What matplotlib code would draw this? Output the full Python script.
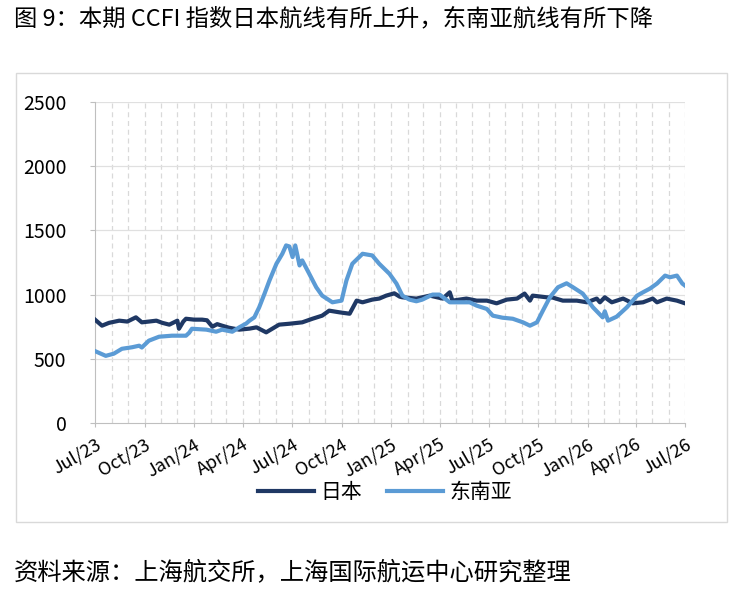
import matplotlib
matplotlib.use('Agg')
import matplotlib.pyplot as plt
import pandas as pd
from matplotlib.patches import Rectangle

plt.rcParams['font.family'] = ['Noto Sans CJK SC', 'DejaVu Sans']

# 日本 series
japan_dates = [
    "2023-07-01", "2023-07-14", "2023-07-27", "2023-08-15", "2023-08-30", "2023-09-15",
    "2023-09-26", "2023-10-09", "2023-10-23", "2023-11-03", "2023-11-16", "2023-12-01",
    "2023-12-04", "2023-12-12", "2023-12-17", "2024-01-01", "2024-01-16", "2024-01-25",
    "2024-02-04", "2024-02-13", "2024-02-22", "2024-03-06", "2024-03-25", "2024-04-13",
    "2024-04-26", "2024-05-14", "2024-06-07", "2024-06-26", "2024-07-20", "2024-08-08",
    "2024-08-26", "2024-09-08", "2024-09-27", "2024-10-16", "2024-10-29", "2024-11-09",
    "2024-11-27", "2024-12-10", "2024-12-23", "2025-01-07", "2025-01-17", "2025-01-22",
    "2025-02-17", "2025-03-14", "2025-04-07", "2025-04-20", "2025-04-25", "2025-05-21",
    "2025-06-09", "2025-06-28", "2025-07-16", "2025-08-04", "2025-08-23", "2025-09-06",
    "2025-09-16", "2025-09-21", "2025-10-17", "2025-10-28", "2025-11-16", "2025-12-12",
    "2025-12-31", "2026-01-18", "2026-01-24", "2026-02-02", "2026-02-15", "2026-03-08",
    "2026-03-26", "2026-04-14", "2026-05-02", "2026-05-10", "2026-05-28", "2026-06-16",
    "2026-07-01",
]
japan_values = [
    805, 758, 780, 797, 790, 823,
    784, 790, 797, 780, 766, 797,
    734, 790, 812, 805, 805, 800,
    750, 770, 758, 742, 727, 735,
    745, 706, 766, 773, 784, 812,
    836, 875, 862, 851, 953, 940,
    961, 969, 992, 1010, 984, 979,
    969, 992, 969, 1018, 953, 969,
    953, 953, 932, 961, 969, 1008,
    953, 992, 979, 977, 953, 953,
    940, 969, 940, 979, 940, 969,
    932, 940, 969, 940, 969, 953,
    932,
]

# 东南亚 series
sea_dates = [
    "2023-07-01", "2023-07-21", "2023-08-05", "2023-08-20", "2023-09-08", "2023-09-21",
    "2023-09-26", "2023-10-09", "2023-10-28", "2023-11-21", "2023-12-17", "2023-12-23",
    "2023-12-28", "2024-01-24", "2024-02-11", "2024-02-22", "2024-03-12", "2024-03-25",
    "2024-04-07", "2024-04-13", "2024-04-22", "2024-05-01", "2024-05-11", "2024-05-20",
    "2024-06-02", "2024-06-13", "2024-06-20", "2024-06-26", "2024-07-02", "2024-07-07",
    "2024-07-15", "2024-07-20", "2024-08-02", "2024-08-15", "2024-08-26", "2024-09-14",
    "2024-10-01", "2024-10-10", "2024-10-21", "2024-11-09", "2024-11-27", "2024-12-10",
    "2024-12-29", "2025-01-11", "2025-01-22", "2025-02-04", "2025-02-17", "2025-02-28",
    "2025-03-19", "2025-04-01", "2025-04-20", "2025-05-08", "2025-05-27", "2025-06-09",
    "2025-06-28", "2025-07-09", "2025-07-27", "2025-08-15", "2025-09-03", "2025-09-16",
    "2025-09-29", "2025-10-10", "2025-10-23", "2025-11-07", "2025-11-23", "2025-12-05",
    "2025-12-23", "2026-01-11", "2026-01-29", "2026-02-02", "2026-02-08", "2026-02-24",
    "2026-03-15", "2026-04-03", "2026-04-14", "2026-04-27", "2026-05-10", "2026-05-25",
    "2026-06-03", "2026-06-16", "2026-06-26", "2026-07-01",
]
sea_values = [
    560, 523, 540, 578, 590, 602,
    588, 641, 672, 680, 680, 703,
    734, 727, 711, 727, 711, 745,
    775, 797, 823, 901, 1008, 1109,
    1240, 1318, 1383, 1375, 1292, 1383,
    1227, 1266, 1162, 1057, 992, 940,
    953, 1109, 1240, 1318, 1305, 1240,
    1162, 1086, 992, 961, 948, 961,
    1000, 1000, 940, 940, 940, 914,
    888, 836, 820, 812, 784, 758,
    784, 875, 979, 1057, 1088, 1057,
    1008, 901, 823, 870, 797, 828,
    901, 992, 1018, 1047, 1086, 1148,
    1135, 1148, 1086, 1070,
]

tick_labels = ["Jul/23", "Oct/23", "Jan/24", "Apr/24", "Jul/24", "Oct/24", "Jan/25",
               "Apr/25", "Jul/25", "Oct/25", "Jan/26", "Apr/26", "Jul/26"]

title = "图 9：本期 CCFI 指数日本航线有所上升，东南亚航线有所下降"
source = "资料来源：上海航交所，上海国际航运中心研究整理"

fig = plt.figure(figsize=(7.44, 5.90), dpi=100)
ax = fig.add_axes([95 / 744, 1 - 423 / 590, 590 / 744, 321 / 590])

# outer frame of the chart area
fig.patches.append(Rectangle((16 / 744, 1 - 522 / 590), 711 / 744, 449 / 590,
                             transform=fig.transFigure, fill=False,
                             edgecolor='#d9d9d9', linewidth=1.0))

jd = pd.to_datetime(japan_dates)
sd = pd.to_datetime(sea_dates)
ax.plot(jd, japan_values, color='#1f3864', linewidth=3.0, label='日本', zorder=3)
ax.plot(sd, sea_values, color='#5b9bd5', linewidth=3.0, label='东南亚', zorder=3)

start = pd.Timestamp("2023-07-01")
end = pd.Timestamp("2026-07-01")
ax.set_xlim(start, end)
ax.set_ylim(0, 2500)
ax.set_yticks([0, 500, 1000, 1500, 2000, 2500])

# monthly dashed vertical grid
for d in pd.date_range(start, end, freq='MS')[1:]:
    ax.axvline(d, color='#d9d9d9', linestyle=(0, (4, 3)), linewidth=0.9, zorder=1)
for v in [500, 1000, 1500, 2000, 2500]:
    ax.axhline(v, color='#e0e0e0', linewidth=0.9, zorder=1)

qticks = pd.date_range(start, end, freq='QS-JAN')
ax.set_xticks(qticks)
ax.set_xticklabels(tick_labels, rotation=30, ha='right', rotation_mode='anchor',
                   fontsize=13, color='#000000')
ax.tick_params(axis='x', length=3, color='#bfbfbf', pad=6)
ax.tick_params(axis='y', length=3.6, color='#bfbfbf', labelsize=14, pad=17)

for s in ['top', 'right']:
    ax.spines[s].set_visible(False)
ax.spines['left'].set_color('#bfbfbf')
ax.spines['bottom'].set_color('#bfbfbf')

leg = ax.legend(loc='center', bbox_to_anchor=((385 - 95) / 590, -(492 - 423) / 321),
                ncol=2, frameon=False, fontsize=15, handlelength=2.7,
                columnspacing=1.2, handletextpad=0.3)

fig.text(14 / 744, 1 - 19 / 590, title, fontsize=16.8, va='center', ha='left')
fig.text(14 / 744, 1 - 572 / 590, source, fontsize=17.5, va='center', ha='left')

fig.savefig('out.png', dpi=100)
